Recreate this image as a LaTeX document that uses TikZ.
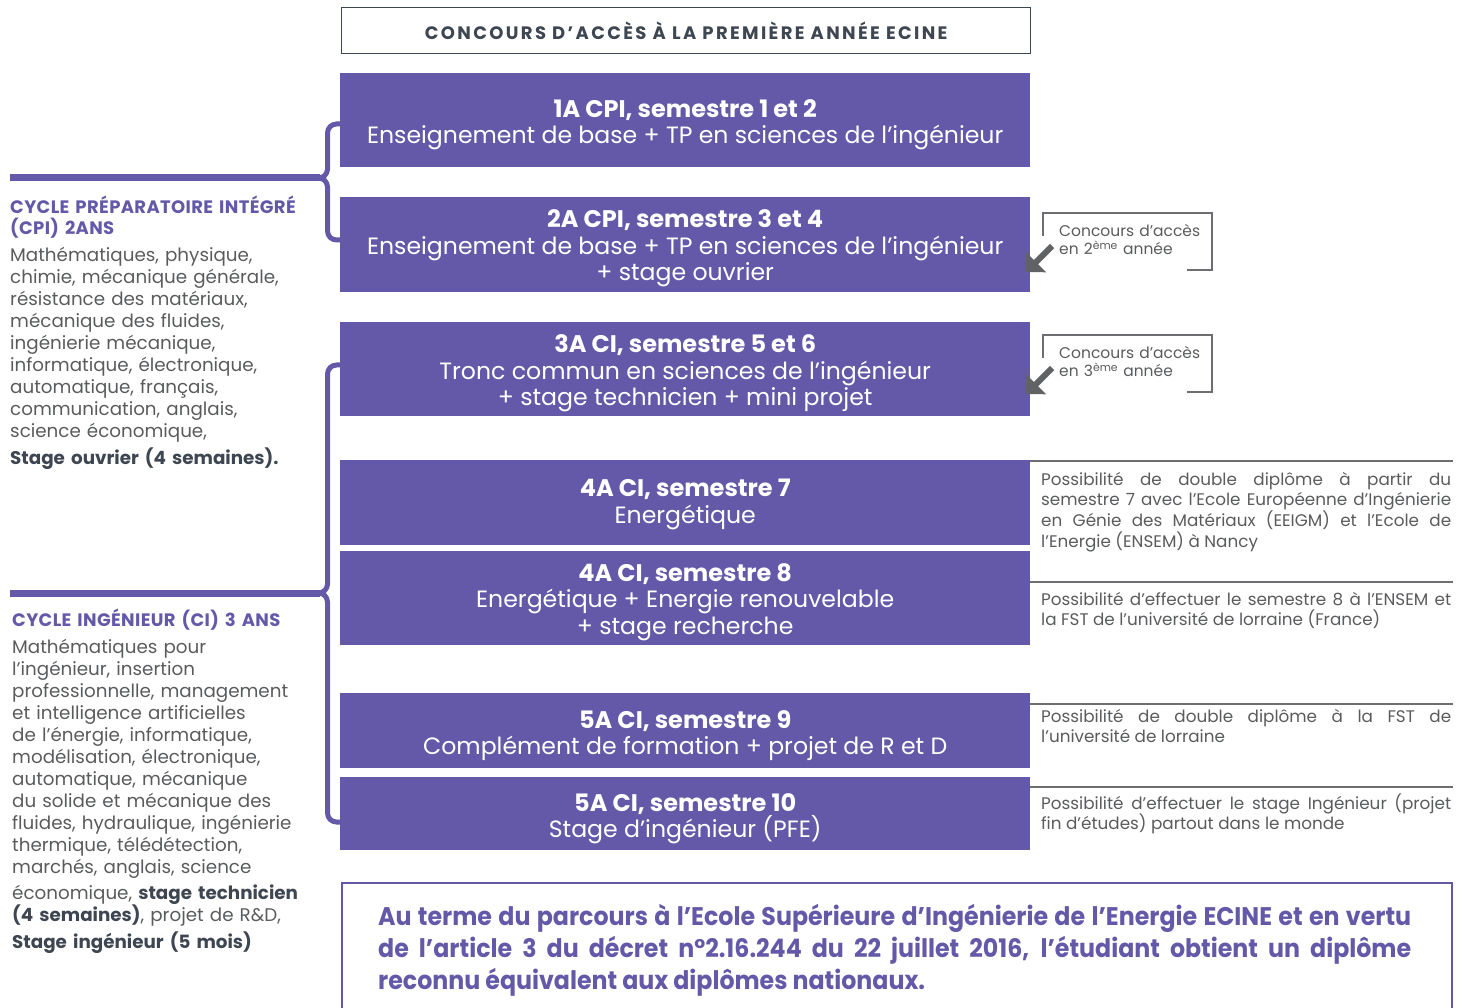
\documentclass[tikz,border=0pt]{standalone}
\usepackage{fontspec}
\setmainfont{Poppins}
\newfontfamily\condfont[FakeStretch=0.93]{Poppins}
\usetikzlibrary{arrows.meta}
\definecolor{pur}{HTML}{6459A8}
\definecolor{txt}{HTML}{5A5B5D}
\definecolor{dark}{HTML}{3E4651}
\definecolor{lgray}{HTML}{6D6E71}
\definecolor{agray}{HTML}{616264}
\newcommand{\yrtitle}[1]{{\fontsize{24}{26.5}\selectfont\bfseries #1}}
\begin{document}
\begin{tikzpicture}[x=1pt,y=-1pt,
  yearbox/.style={fill=pur, minimum width=690pt, minimum height=#1, inner sep=0pt, anchor=north west},
  yeartext/.style={text=white, inner sep=0pt, align=center, font=\fontsize{23.6}{26.5}\selectfont},
  brace/.style={draw=pur, line width=5pt, rounded corners=9pt},
  bar/.style={draw=pur, line width=7pt},
  cycletitle/.style={anchor=base west, inner sep=0pt, text width=320pt, align=left, text=pur, font=\fontsize{18}{21}\selectfont\bfseries\addfontfeature{LetterSpace=2}},
  cyclebody/.style={anchor=base west, inner sep=0pt, text width=320pt, align=left, text=txt, font=\fontsize{18.3}{22}\selectfont},
  notetext/.style={anchor=base west, inner sep=0pt, text width=410pt, align=justify, text=txt, font=\fontsize{16.8}{20.7}\selectfont},
  noteline/.style={draw=lgray, line width=1.6pt},
  concbox/.style={draw=lgray, line width=2.5pt},
  conctext/.style={anchor=base west, inner sep=0pt, text width=160pt, align=left, text=txt, font=\fontsize{15.5}{18}\selectfont},
  concarrow/.style={draw=agray, line width=6pt, -{Triangle[length=14pt,width=28pt]}},
]
\useasboundingbox (0,0) rectangle (1468,1008);

% title box
\node[draw=dark, line width=1.4pt, minimum width=689pt, minimum height=46pt, anchor=north west, inner sep=0pt,
  text=dark, font=\fontsize{18}{20}\selectfont\bfseries\addfontfeature{LetterSpace=13}] (title) at (341,7)
  {CONCOURS D’ACCÈS À LA PREMIÈRE ANNÉE ECINE};

% year boxes
\node[yearbox=94pt] (y1) at (340,73) {};
\node[yeartext] (y1t) at ([yshift=-4.5pt]y1.center) {\yrtitle{1A CPI, semestre 1 et 2}\\Enseignement de base + TP en sciences de l’ingénieur};
\node[yearbox=95pt] (y2) at (340,197) {};
\node[yeartext] (y2t) at ([yshift=-4pt]y2.center) {\yrtitle{2A CPI, semestre 3 et 4}\\Enseignement de base + TP en sciences de l’ingénieur\\+ stage ouvrier};
\node[yearbox=94pt] (y3) at (340,322) {};
\node[yeartext] (y3t) at ([yshift=-4.5pt]y3.center) {\yrtitle{3A CI, semestre 5 et 6}\\Tronc commun en sciences de l’ingénieur\\+ stage technicien + mini projet};
\node[yearbox=85pt] (y4) at (340,460) {};
\node[yeartext] (y4t) at ([yshift=-1.5pt]y4.center) {\yrtitle{4A CI, semestre 7}\\Energétique};
\node[yearbox=94pt] (y5) at (340,551) {};
\node[yeartext] (y5t) at ([yshift=-4pt]y5.center) {\yrtitle{4A CI, semestre 8}\\Energétique + Energie renouvelable\\+ stage recherche};
\node[yearbox=75pt] (y6) at (340,693) {};
\node[yeartext] (y6t) at ([yshift=-5pt]y6.center) {\yrtitle{5A CI, semestre 9}\\Complément de formation + projet de R et D};
\node[yearbox=73pt] (y7) at (340,777) {};
\node[yeartext] (y7t) at ([yshift=-5pt]y7.center) {\yrtitle{5A CI, semestre 10}\\Stage d’ingénieur (PFE)};

% braces
\coordinate (b1top) at (342,124);
\coordinate (b1mid) at (320,178);
\coordinate (b1bot) at (342,240);
\draw[brace] (b1top) -- (327.5,124) -- (327.5,178) -- (b1mid);
\draw[brace] (b1mid) -- (327.5,178) -- (327.5,240) -- (b1bot);
\coordinate (c1) at (10,178);
\draw[bar] (c1) -- (b1mid);

\coordinate (b2top) at (342,365);
\coordinate (b2mid) at (320,593);
\coordinate (b2bot) at (342,822);
\draw[brace] (b2top) -- (327.5,365) -- (327.5,593) -- (b2mid);
\draw[brace] (b2mid) -- (327.5,593) -- (327.5,822) -- (b2bot);
\coordinate (c2) at (10,593);
\draw[bar] (c2) -- (b2mid);

% left texts
\node[cycletitle] (t1) at (10,214) {CYCLE PRÉPARATOIRE INTÉGRÉ\\(CPI) 2ANS};
\node[cyclebody] (d1) at (10,262) {Mathématiques, physique,\\chimie, mécanique générale,\\résistance des matériaux,\\mécanique des fluides,\\ingénierie mécanique,\\informatique, électronique,\\automatique, français,\\communication, anglais,\\science économique,\\[5pt]{\color{dark}\bfseries Stage ouvrier (4 semaines).}};

\node[cycletitle] (t2) at (12,626) {CYCLE INGÉNIEUR (CI) 3 ANS};
\node[cyclebody] (d2) at (12,653) {Mathématiques pour\\l’ingénieur, insertion\\professionnelle, management\\et intelligence artificielles\\de l’énergie, informatique,\\modélisation, électronique,\\automatique, mécanique\\du solide et mécanique des\\fluides, hydraulique, ingénierie\\thermique, télédétection,\\marchés, anglais, science\\[4pt]économique, {\color{dark}\bfseries stage technicien}\\{\color{dark}\bfseries (4 semaines)}, projet de R\&D,\\[5pt]{\color{dark}\bfseries Stage ingénieur (5 mois)}};

% concours boxes
\draw[concbox] (1043,236) -- (1043,213) -- (1212,213) -- (1212,270) -- (1187,270);
\node[conctext] (k1) at (1059,237) {Concours d’accès\\en 2\textsuperscript{ème} année};
\coordinate (k1a) at (1052,246);
\coordinate (k1b) at (1026,272);
\draw[concarrow] (k1a) -- (k1b);

\draw[concbox] (1043,358) -- (1043,335) -- (1212,335) -- (1212,392) -- (1187,392);
\node[conctext] (k2) at (1059,359) {Concours d’accès\\en 3\textsuperscript{ème} année};
\coordinate (k2a) at (1052,368);
\coordinate (k2b) at (1026,394);
\draw[concarrow] (k2a) -- (k2b);

% right notes
\coordinate (n1a) at (1030,461); \coordinate (n1b) at (1453,461);
\draw[noteline] (n1a) -- (n1b);
\node[notetext] (n1) at (1041,485) {Possibilité de double diplôme à partir du\linebreak semestre 7 avec l’Ecole Européenne d’Ingénierie\linebreak en Génie des Matériaux (EEIGM) et l’Ecole de\linebreak l’Energie (ENSEM) à Nancy};

\coordinate (n2a) at (1030,582); \coordinate (n2b) at (1453,582);
\draw[noteline] (n2a) -- (n2b);
\node[notetext] (n2) at (1041,605) {Possibilité d’effectuer le semestre 8 à l’ENSEM et\linebreak la FST de l’université de lorraine (France)};

\coordinate (n3a) at (1030,704); \coordinate (n3b) at (1453,704);
\draw[noteline] (n3a) -- (n3b);
\node[notetext] (n3) at (1041,722) {Possibilité de double diplôme à la FST de\linebreak l’université de lorraine};

\coordinate (n4a) at (1030,787); \coordinate (n4b) at (1453,787);
\draw[noteline] (n4a) -- (n4b);
\node[notetext] (n4) at (1041,809) {Possibilité d’effectuer le stage Ingénieur (projet\linebreak fin d’études) partout dans le monde};

% bottom box
\draw[draw=pur, line width=2.5pt] (342,1020) -- (342,883) -- (1452,883) -- (1452,1020);
\node[anchor=base west, inner sep=0pt, text width=1033pt, align=justify, text=pur,
  font=\condfont\fontsize{25.5}{32}\selectfont\bfseries] (concl) at (378,925)
  {Au terme du parcours à l’Ecole Supérieure d’Ingénierie de l’Energie ECINE et en vertu\linebreak de l’article 3 du décret n°2.16.244 du 22 juillet 2016, l’étudiant obtient un diplôme\linebreak reconnu équivalent aux diplômes nationaux.};
\end{tikzpicture}
\end{document}
